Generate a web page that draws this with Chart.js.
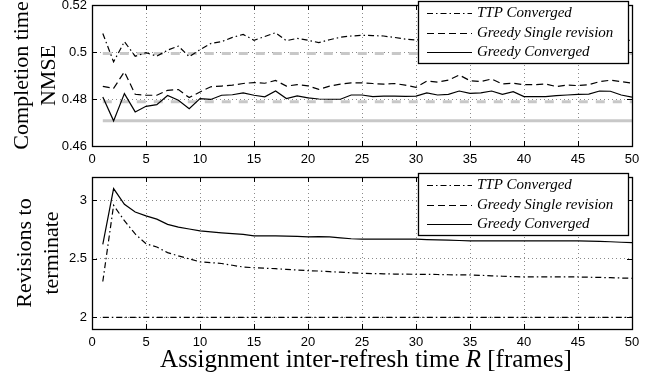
<!DOCTYPE html>
<html lang="en">
<head>
<meta charset="UTF-8">
<title>NMSE and revisions vs inter-refresh time</title>
<script src="https://cdn.jsdelivr.net/npm/chart.js"></script>
<style>
  body { margin: 0; background: #fff; }
  #wrap { position: relative; width: 656px; height: 379px; }
  canvas { position: absolute; left: 0; }
</style>
</head>
<body>
<div id="wrap">
  <canvas id="nmseChart" width="656" height="170" style="top:0"></canvas>
  <canvas id="revChart" width="656" height="209" style="top:170px"></canvas>
</div>
<script>
  // assignment inter-refresh time R (frames)
  const xs = [1, 2, 3, 4, 5, 6, 7, 8, 9, 10, 11, 12, 13, 14, 15, 16, 17, 18, 19, 20,
              21, 22, 23, 24, 25, 26, 27, 28, 29, 30, 31, 32, 33, 34, 35, 36, 37, 38, 39, 40,
              41, 42, 43, 44, 45, 46, 47, 48, 49, 50];
  const xTicks = [0, 5, 10, 15, 20, 25, 30, 35, 40, 45, 50];

  // completion time NMSE
  const ttpNmse = [0.5079, 0.4958, 0.5044, 0.4982, 0.4997, 0.4982, 0.5008, 0.5025, 0.4980, 0.5010,
                   0.5036, 0.5044, 0.5062, 0.5075, 0.5050, 0.5066, 0.5082, 0.5048, 0.5058, 0.5050,
                   0.5040, 0.5052, 0.5063, 0.5068, 0.5071, 0.5070, 0.5068, 0.5062, 0.5055, 0.5051,
                   0.5055, 0.5058, 0.5052, 0.5056, 0.5054, 0.5050, 0.5053, 0.5049, 0.5052, 0.5050,
                   0.5048, 0.5051, 0.5049, 0.5047, 0.5050, 0.5048, 0.5052, 0.5049, 0.5047, 0.5050];
  const greedySingleNmse = [0.4854, 0.4845, 0.4916, 0.4820, 0.4816, 0.4816, 0.4837, 0.4840, 0.4806, 0.4830,
                            0.4852, 0.4855, 0.4859, 0.4866, 0.4870, 0.4867, 0.4879, 0.4855, 0.4861, 0.4856,
                            0.4841, 0.4855, 0.4863, 0.4869, 0.4869, 0.4866, 0.4863, 0.4866, 0.4859, 0.4850,
                            0.4876, 0.4872, 0.4880, 0.4902, 0.4878, 0.4874, 0.4885, 0.4864, 0.4867, 0.4861,
                            0.4861, 0.4864, 0.4853, 0.4859, 0.4857, 0.4861, 0.4874, 0.4880, 0.4874, 0.4867];
  const greedyConvNmse = [0.4809, 0.4707, 0.4823, 0.4745, 0.4769, 0.4776, 0.4815, 0.4795, 0.4759, 0.4802,
                          0.4798, 0.4816, 0.4818, 0.4826, 0.4816, 0.4809, 0.4834, 0.4802, 0.4813, 0.4805,
                          0.4800, 0.4799, 0.4799, 0.4817, 0.4817, 0.4810, 0.4812, 0.4812, 0.4811, 0.4812,
                          0.4826, 0.4817, 0.4820, 0.4834, 0.4824, 0.4826, 0.4834, 0.4820, 0.4831, 0.4810,
                          0.4810, 0.4810, 0.4814, 0.4817, 0.4820, 0.4821, 0.4834, 0.4833, 0.4817, 0.4808];
  // grey reference levels (start and end of the range)
  const refX = [1, 50];
  const ttpRef = [0.4994, 0.4994];
  const singleRef = [0.4788, 0.4788];
  const convRef = [0.4707, 0.4707];
  const nmseTicks = [0.46, 0.48, 0.5, 0.52];

  // revisions to terminate
  const ttpRev = [2.306, 2.958, 2.826, 2.713, 2.629, 2.601, 2.553, 2.525, 2.500, 2.474,
                  2.468, 2.460, 2.445, 2.430, 2.424, 2.420, 2.416, 2.410, 2.404, 2.399,
                  2.396, 2.390, 2.386, 2.381, 2.376, 2.374, 2.372, 2.370, 2.369, 2.368,
                  2.367, 2.366, 2.364, 2.363, 2.362, 2.359, 2.355, 2.351, 2.348, 2.345,
                  2.345, 2.345, 2.345, 2.345, 2.345, 2.343, 2.341, 2.339, 2.336, 2.334];
  const greedySingleRev = [2, 2];
  const greedyConvRev = [2.623, 3.101, 2.966, 2.901, 2.868, 2.840, 2.795, 2.772, 2.755, 2.739,
                         2.730, 2.722, 2.716, 2.710, 2.697, 2.697, 2.697, 2.695, 2.692, 2.688,
                         2.690, 2.688, 2.680, 2.672, 2.668, 2.668, 2.668, 2.668, 2.668, 2.668,
                         2.665, 2.662, 2.660, 2.657, 2.654, 2.654, 2.654, 2.654, 2.654, 2.654,
                         2.654, 2.654, 2.654, 2.654, 2.654, 2.652, 2.650, 2.646, 2.642, 2.638];
  const revTicks = [2, 2.5, 3];

  const legendLabels = ['TTP Converged', 'Greedy Single revision', 'Greedy Converged'];
  const DASHDOT = [6, 3, 1.5, 3];
  const DASHED = [7, 4];
  const legendDashes = [DASHDOT, DASHED, []];

  function pts(xv, yv) {
    return xv.map((x, i) => ({ x: x, y: yv[i] }));
  }

  function line(xv, yv, dash) {
    return { data: pts(xv, yv), borderColor: '#000', borderWidth: 1.2, borderDash: dash,
             pointRadius: 0, tension: 0, fill: false, order: 1 };
  }

  function greyLine(yv, dash) {
    return { data: pts(refX, yv), borderColor: '#c8c8c8', borderWidth: 3, borderDash: dash,
             pointRadius: 0, fill: false, order: 2 };
  }

  // black box round the plot with inward tick marks
  const framePlugin = {
    id: 'frame',
    afterDatasetsDraw(chart) {
      const { ctx, chartArea: a, scales: { x, y } } = chart;
      ctx.save();
      ctx.strokeStyle = '#000';
      ctx.lineWidth = 1;
      ctx.setLineDash([]);
      ctx.beginPath();
      x.ticks.forEach(t => {
        const px = Math.round(x.getPixelForValue(t.value)) + 0.5;
        ctx.moveTo(px, a.bottom); ctx.lineTo(px, a.bottom - 5);
        ctx.moveTo(px, a.top); ctx.lineTo(px, a.top + 5);
      });
      y.ticks.forEach(t => {
        const py = Math.round(y.getPixelForValue(t.value)) + 0.5;
        ctx.moveTo(a.left, py); ctx.lineTo(a.left + 5, py);
        ctx.moveTo(a.right, py); ctx.lineTo(a.right - 5, py);
      });
      ctx.stroke();
      ctx.lineWidth = 1.3;
      ctx.strokeRect(Math.round(a.left) + 0.5, Math.round(a.top) + 0.5,
                     Math.round(a.width), Math.round(a.height));
      ctx.restore();
    }
  };

  const boxLegend = {
    id: 'boxLegend',
    afterDraw(chart) {
      const { ctx, chartArea: a } = chart;
      const w = 210, h = 62;
      const left = Math.round(a.right) - 214, top = Math.round(a.top) - 4;
      ctx.save();
      ctx.fillStyle = '#fff';
      ctx.fillRect(left, top, w, h);
      ctx.strokeStyle = '#000';
      ctx.lineWidth = 1.3;
      ctx.strokeRect(left + 0.5, top + 0.5, w, h);
      ctx.font = 'italic 15px "Liberation Serif"';
      ctx.textBaseline = 'middle';
      ctx.fillStyle = '#000';
      ctx.lineWidth = 1;
      legendLabels.forEach((label, i) => {
        const yy = Math.round(top + 12 + i * 19.5) + 0.5;
        ctx.setLineDash(legendDashes[i]);
        ctx.beginPath();
        ctx.moveTo(left + 9, yy);
        ctx.lineTo(left + 54, yy);
        ctx.stroke();
        ctx.setLineDash([]);
        ctx.fillText(label, left + 59, yy);
      });
      ctx.restore();
    }
  };

  const xTitlePlugin = {
    id: 'xTitle',
    afterDraw(chart) {
      const { ctx, chartArea: a } = chart;
      const parts = [['Assignment inter-refresh time ', ''], ['R', 'italic '], [' [frames]', '']];
      ctx.save();
      ctx.fillStyle = '#000';
      ctx.textBaseline = 'alphabetic';
      let total = 0;
      parts.forEach(p => { ctx.font = p[1] + '25px "Liberation Serif"'; total += ctx.measureText(p[0]).width; });
      let cx = (a.left + a.right) / 2 + 4 - total / 2;
      parts.forEach(p => {
        ctx.font = p[1] + '25px "Liberation Serif"';
        ctx.fillText(p[0], cx, 197);
        cx += ctx.measureText(p[0]).width;
      });
      ctx.restore();
    }
  };

  function makeChart(id, datasets, yMin, yMax, yTicks, yTitle, titlePad, xHeight, padTop, plugins) {
    return new Chart(document.getElementById(id), {
      type: 'line',
      data: { datasets: datasets },
      options: {
        responsive: false,
        animation: false,
        events: [],
        layout: { padding: { top: padTop, right: 24, left: 0, bottom: 0 } },
        plugins: { legend: { display: false }, tooltip: { enabled: false } },
        scales: {
          x: {
            type: 'linear', min: 0, max: 50,
            afterBuildTicks: s => { s.ticks = xTicks.map(v => ({ value: v })); },
            afterFit: s => { s.height = xHeight; s.paddingLeft = 0; s.paddingRight = 0; },
            ticks: { autoSkip: false, maxRotation: 0, padding: 6, color: '#000',
                     font: { family: 'Liberation Sans', size: 13 } },
            grid: { color: '#8a8a8a', lineWidth: 1, drawTicks: false },
            border: { display: false, dash: [1, 3] }
          },
          y: {
            min: yMin, max: yMax,
            afterBuildTicks: s => { s.ticks = yTicks.map(v => ({ value: v })); },
            afterFit: s => { s.width = 92; s.paddingTop = 0; s.paddingBottom = 0; },
            ticks: { padding: 5, color: '#000', callback: v => String(v),
                     font: { family: 'Liberation Sans', size: 13 } },
            grid: { color: '#8a8a8a', lineWidth: 1, drawTicks: false },
            border: { display: false, dash: [1, 3] },
            title: { display: true, text: yTitle, color: '#000', padding: { top: titlePad, bottom: 0 },
                     font: { family: 'Liberation Serif', size: 22, lineHeight: 1.25 } }
          }
        }
      },
      plugins: plugins
    });
  }

  makeChart('nmseChart', [
    line(xs, ttpNmse, DASHDOT),
    line(xs, greedySingleNmse, DASHED),
    line(xs, greedyConvNmse, []),
    greyLine(ttpRef, [9, 8]),
    greyLine(singleRef, [9, 8]),
    greyLine(convRef, [])
  ], 0.46, 0.52, nmseTicks, ['Completion time', 'NMSE'], 8, 24, 5, [framePlugin, boxLegend]);

  makeChart('revChart', [
    line(xs, ttpRev, DASHDOT),
    line(refX, greedySingleRev, DASHDOT),
    line(xs, greedyConvRev, [])
  ], 1.9, 3.2, revTicks, ['Revisions to', 'terminate'], 11, 50, 7, [framePlugin, boxLegend, xTitlePlugin]);
</script>
</body>
</html>
